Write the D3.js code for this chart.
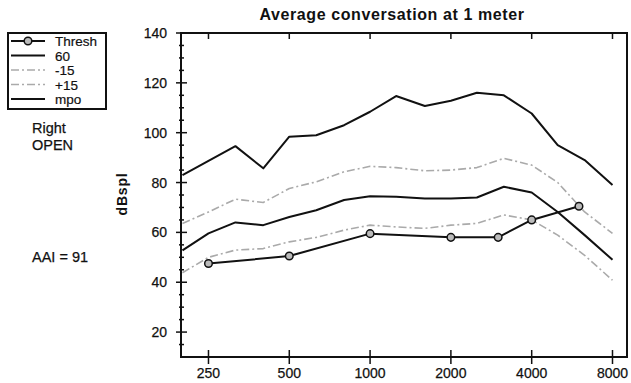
<!DOCTYPE html>
<html>
<head>
<meta charset="utf-8">
<script src="https://cdn.jsdelivr.net/npm/d3@7"></script>
<style>
  body { margin: 0; background: #fff; }
  svg { font-family: "Liberation Sans", Arial, sans-serif; }
</style>
</head>
<body>
<div id="graph"></div>
<script>
// 1/3 octave frequencies the speech curves are sampled at
var freqs = [200, 250, 315, 400, 500, 630, 800, 1000, 1250, 1600, 2000, 2500, 3150, 4000, 5000, 6300, 8000];
var mpo    = [83, 88.7, 94.6, 85.7, 98.4, 99, 103, 108.4, 114.7, 110.7, 112.8, 116, 115, 107.7, 95, 89, 79];
var plus15 = [63.6, 68.2, 73.3, 72, 77.6, 80.3, 84.3, 86.5, 86, 84.7, 85, 86, 89.7, 87, 80, 68.2, 59.6];
var sixty  = [52.8, 59.6, 64, 62.9, 66.2, 68.9, 73, 74.5, 74.3, 73.6, 73.6, 74, 78.3, 76, 68.2, 58.9, 49];
var minus15 = [43.8, 50, 52.9, 53.5, 56.2, 58, 60.9, 62.9, 62.2, 61.6, 62.9, 63.6, 67, 65, 58.9, 50.8, 40.8];

var threshFreqs = [250, 500, 1000, 2000, 3000, 4000, 6000];
var thresh = [47.5, 50.5, 59.5, 58, 58, 65, 70.5];

var xTicks = [250, 500, 1000, 2000, 4000, 8000];
var yTicks = [20, 40, 60, 80, 100, 120, 140];

var legendNames = ["Thresh", "60", "-15", "+15", "mpo"];

var svg = d3.select("#graph").append("svg")
    .attr("width", 631)
    .attr("height", 383);

var x = d3.scaleLog().base(2).domain([197.5, 9060]).range([181, 627]);
var y = d3.scaleLinear().domain([10, 140]).range([357, 33]);

// frame
svg.append("rect")
    .attr("x", 181).attr("y", 33)
    .attr("width", 627 - 181).attr("height", 357 - 33)
    .style("fill", "none").style("stroke", "#111").style("stroke-width", 2);

// y ticks: major every 20, minor every 5
d3.range(15, 140, 5).forEach(function (v) {
    if (v % 20 == 0) return;
    svg.append("line")
        .attr("x1", 179).attr("x2", 184)
        .attr("y1", y(v)).attr("y2", y(v))
        .style("stroke", "#111").style("stroke-width", 1.5);
});
yTicks.forEach(function (v) {
    svg.append("line")
        .attr("x1", 176).attr("x2", 187)
        .attr("y1", y(v)).attr("y2", y(v))
        .style("stroke", "#111").style("stroke-width", 1.5);
    svg.append("text")
        .attr("x", 167).attr("y", y(v) + 5)
        .attr("text-anchor", "end")
        .attr("font-size", "14px")
        .style("fill", "#111")
        .style("stroke", "#111").style("stroke-width", 0.25)
        .text(v);
});

// x ticks (bottom crossing, top pointing in)
xTicks.forEach(function (f) {
    svg.append("line")
        .attr("x1", x(f)).attr("x2", x(f))
        .attr("y1", 350).attr("y2", 364)
        .style("stroke", "#111").style("stroke-width", 1.5);
    svg.append("line")
        .attr("x1", x(f)).attr("x2", x(f))
        .attr("y1", 33).attr("y2", 39)
        .style("stroke", "#111").style("stroke-width", 1.5);
    svg.append("text")
        .attr("x", x(f)).attr("y", 378)
        .attr("text-anchor", "middle")
        .attr("font-size", "14px")
        .style("fill", "#111")
        .style("stroke", "#111").style("stroke-width", 0.25)
        .text(f);
});

var line = d3.line()
    .x(function (d) { return x(d[0]); })
    .y(function (d) { return y(d[1]); });

function zipSeries(fs, vs) {
    return fs.map(function (f, i) { return [f, vs[i]]; });
}

var styles = {
    "Thresh": { stroke: "#111", width: 2, dash: null },
    "60": { stroke: "#111", width: 2, dash: null },
    "-15": { stroke: "#aaa", width: 1.6, dash: "8,3,2,3" },
    "+15": { stroke: "#aaa", width: 1.6, dash: "8,3,2,3" },
    "mpo": { stroke: "#111", width: 2, dash: null }
};

var curves = [
    { name: "mpo", data: zipSeries(freqs, mpo) },
    { name: "+15", data: zipSeries(freqs, plus15) },
    { name: "60", data: zipSeries(freqs, sixty) },
    { name: "-15", data: zipSeries(freqs, minus15) },
    { name: "Thresh", data: zipSeries(threshFreqs, thresh) }
];

curves.forEach(function (c) {
    var s = styles[c.name];
    svg.append("path")
        .datum(c.data)
        .attr("d", line)
        .style("fill", "none")
        .style("stroke", s.stroke)
        .style("stroke-width", s.width)
        .style("stroke-linejoin", "round")
        .style("stroke-dasharray", s.dash);
});

svg.selectAll("circle.th")
    .data(zipSeries(threshFreqs, thresh))
    .enter().append("circle")
    .attr("class", "th")
    .attr("cx", function (d) { return x(d[0]); })
    .attr("cy", function (d) { return y(d[1]); })
    .attr("r", 3.8)
    .style("fill", "#bbb")
    .style("stroke", "#111")
    .style("stroke-width", 1.5);

// title
svg.append("text")
    .attr("x", 392).attr("y", 20)
    .attr("text-anchor", "middle")
    .attr("font-size", "16px")
    .style("font-weight", "bold")
    .style("letter-spacing", "0.6px")
    .style("fill", "#111")
    .text("Average conversation at 1 meter");

// y axis label
svg.append("text")
    .attr("transform", "translate(127,194) rotate(-90)")
    .attr("text-anchor", "middle")
    .attr("font-size", "14px")
    .style("font-weight", "bold")
    .style("letter-spacing", "0.8px")
    .style("fill", "#111")
    .text("dBspl");

// side notes
[["Right", 133], ["OPEN", 150], ["AAI = 91", 262]].forEach(function (t) {
    svg.append("text")
        .attr("x", 32).attr("y", t[1])
        .attr("font-size", "14.5px")
        .style("fill", "#111")
        .style("stroke", "#111").style("stroke-width", 0.25)
        .text(t[0]);
});

// legend
svg.append("rect")
    .attr("x", 8).attr("y", 33)
    .attr("width", 98).attr("height", 76)
    .style("fill", "#fff").style("stroke", "#111").style("stroke-width", 2);

legendNames.forEach(function (name, i) {
    var ly = 41 + i * 14.5;
    var s = styles[name];
    svg.append("line")
        .attr("x1", 11).attr("x2", 45)
        .attr("y1", ly).attr("y2", ly)
        .style("stroke", s.stroke)
        .style("stroke-width", s.width)
        .style("stroke-dasharray", s.dash);
    if (name == "Thresh") {
        svg.append("circle")
            .attr("cx", 28).attr("cy", ly).attr("r", 3.8)
            .style("fill", "#bbb").style("stroke", "#111").style("stroke-width", 1.5);
    }
    svg.append("text")
        .attr("x", 55).attr("y", ly + 5)
        .attr("font-size", "13.5px")
        .style("fill", "#111")
        .style("stroke", "#111").style("stroke-width", 0.2)
        .text(name);
});
</script>
</body>
</html>
